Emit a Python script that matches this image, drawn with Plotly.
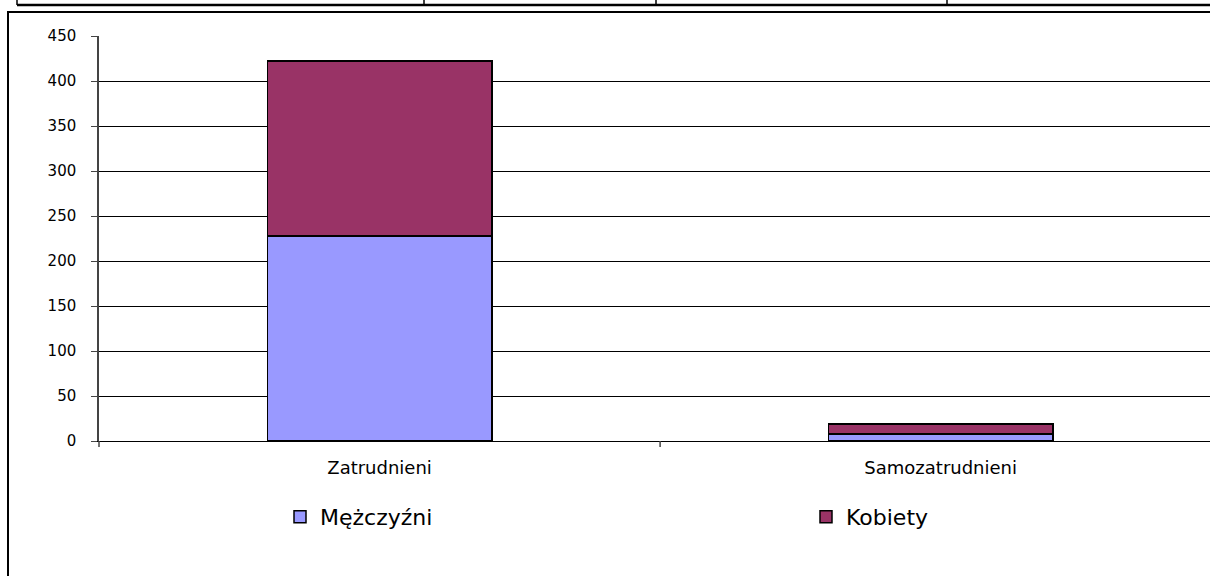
import plotly.graph_objects as go

categories = ["Zatrudnieni", "Samozatrudnieni"]
men = [228, 8]
women = [194, 11]
y_ticks = [0, 50, 100, 150, 200, 250, 300, 350, 400, 450]

W, H = 1210, 576
# plot area in page pixels
L, R, T, B = 99, 1210, 36, 441

def px(x):  # page x -> paper
    return (x - L) / (R - L)

def py(y):  # page y -> paper
    return (B - y) / (B - T)

FONT = "DejaVu Sans, Liberation Sans, Arial"

fig = go.Figure()
fig.add_trace(go.Bar(x=categories, y=men, name="Mężczyźni", legend="legend",
                     marker=dict(color="#9999FF", line=dict(color="black", width=1.5))))
fig.add_trace(go.Bar(x=categories, y=women, name="Kobiety", legend="legend2",
                     marker=dict(color="#993366", line=dict(color="black", width=1.5))))

shapes = []
# outer chart frame
shapes.append(dict(type="rect", xref="paper", yref="paper",
                   x0=px(8), x1=px(1240), y0=py(640), y1=py(12),
                   line=dict(color="black", width=2), layer="below"))
# top table row
shapes.append(dict(type="line", xref="paper", yref="paper",
                   x0=px(17), x1=px(1240), y0=py(5), y1=py(5),
                   line=dict(color="black", width=2.5)))
for vx in [17, 424, 656, 947]:
    shapes.append(dict(type="line", xref="paper", yref="paper",
                       x0=px(vx), x1=px(vx), y0=py(-10), y1=py(5),
                       line=dict(color="black", width=1.5)))
# category separator tick and y-axis extension below 0
shapes.append(dict(type="line", xref="x", yref="paper",
                   x0=0.5, x1=0.5, y0=0, y1=py(447),
                   line=dict(color="#444444", width=1.5)))
shapes.append(dict(type="line", xref="paper", yref="paper",
                   x0=0, x1=0, y0=0, y1=py(447),
                   line=dict(color="#444444", width=1.5)))

leg_common = dict(orientation="h", yanchor="middle", xanchor="left",
                  font=dict(family=FONT, size=22, color="black"),
                  bgcolor="rgba(0,0,0,0)", itemwidth=30)

fig.update_layout(
    width=W, height=H,
    margin=dict(l=L, r=W - R, t=T, b=H - B, pad=0),
    barmode="stack", bargap=0.6,
    plot_bgcolor="white", paper_bgcolor="white",
    font=dict(family=FONT, size=15, color="black"),
    showlegend=True,
    legend=dict(x=px(280), y=py(517), **leg_common),
    legend2=dict(x=px(806), y=py(517), **leg_common),
    shapes=shapes,
)
fig.update_xaxes(range=[-0.5, 1.48], showgrid=False, showline=True,
                 linecolor="black", linewidth=1, ticks="",
                 tickfont=dict(family=FONT, size=18), ticklabelstandoff=10,
                 zeroline=False)
fig.update_yaxes(range=[0, 450], tickvals=y_ticks, showgrid=True, gridcolor="black",
                 gridwidth=1, showline=True, linecolor="#444444", linewidth=1.5,
                 ticks="outside", ticklen=6, tickcolor="#444444",
                 tickfont=dict(family=FONT, size=15), ticklabelstandoff=12,
                 zeroline=False)

fig.write_html("out.html", config={"displayModeBar": False},
               post_script="document.body.style.margin='0';document.body.style.overflow='hidden';")
